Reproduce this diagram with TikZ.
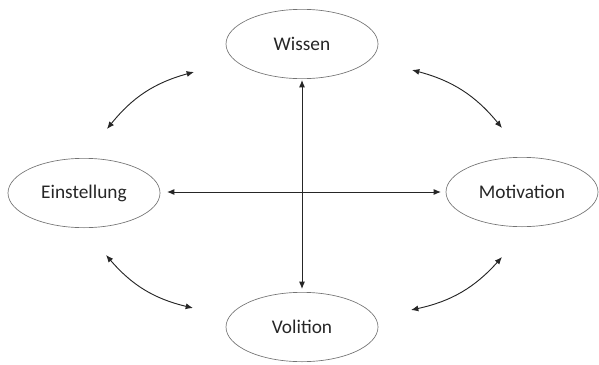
\documentclass[tikz,border=0pt]{standalone}
\usepackage{fontspec}
\setmainfont{Carlito}
\usetikzlibrary{arrows.meta,shapes.geometric}
\begin{document}
\begin{tikzpicture}[x=0.75pt,y=-0.75pt,
  concept/.style={ellipse, draw=black!55, line width=0.5pt,
    minimum width=114pt, minimum height=52pt, inner sep=0pt,
    font=\fontsize{14.5}{17}\selectfont, text=black!85},
  link/.style={line width=0.7pt, draw=black!85,
    {Latex[length=5.5pt,width=4.5pt]}-{Latex[length=5.5pt,width=4.5pt]}}]
\useasboundingbox (0,0) rectangle (599,364);
\node[concept] (wissen) at (302,44) {Wissen};
\node[concept] (einst) at (84,193) {Einstellung};
\node[concept] (motiv) at (522,192) {Motivation};
\node[concept] (vol) at (302,327) {Volition};
% cross in the middle
\coordinate (vt) at (302,80);
\coordinate (vb) at (302,289);
\coordinate (hl) at (167,192);
\coordinate (hr) at (441,192);
\draw[link] (vt) -- (vb);
\draw[link] (hl) -- (hr);
% curved links between neighbours
\coordinate (a1) at (107,129);
\coordinate (a2) at (194,72);
\coordinate (b1) at (412,70);
\coordinate (b2) at (502,128);
\coordinate (c1) at (502,257);
\coordinate (c2) at (411,310);
\coordinate (d1) at (106,255);
\coordinate (d2) at (193,308);
\draw[link] (a1) to[bend left=18] (a2);
\draw[link] (b1) to[bend left=18] (b2);
\draw[link] (c1) to[bend left=18] (c2);
\draw[link] (d1) to[bend right=18] (d2);
\end{tikzpicture}
\end{document}
